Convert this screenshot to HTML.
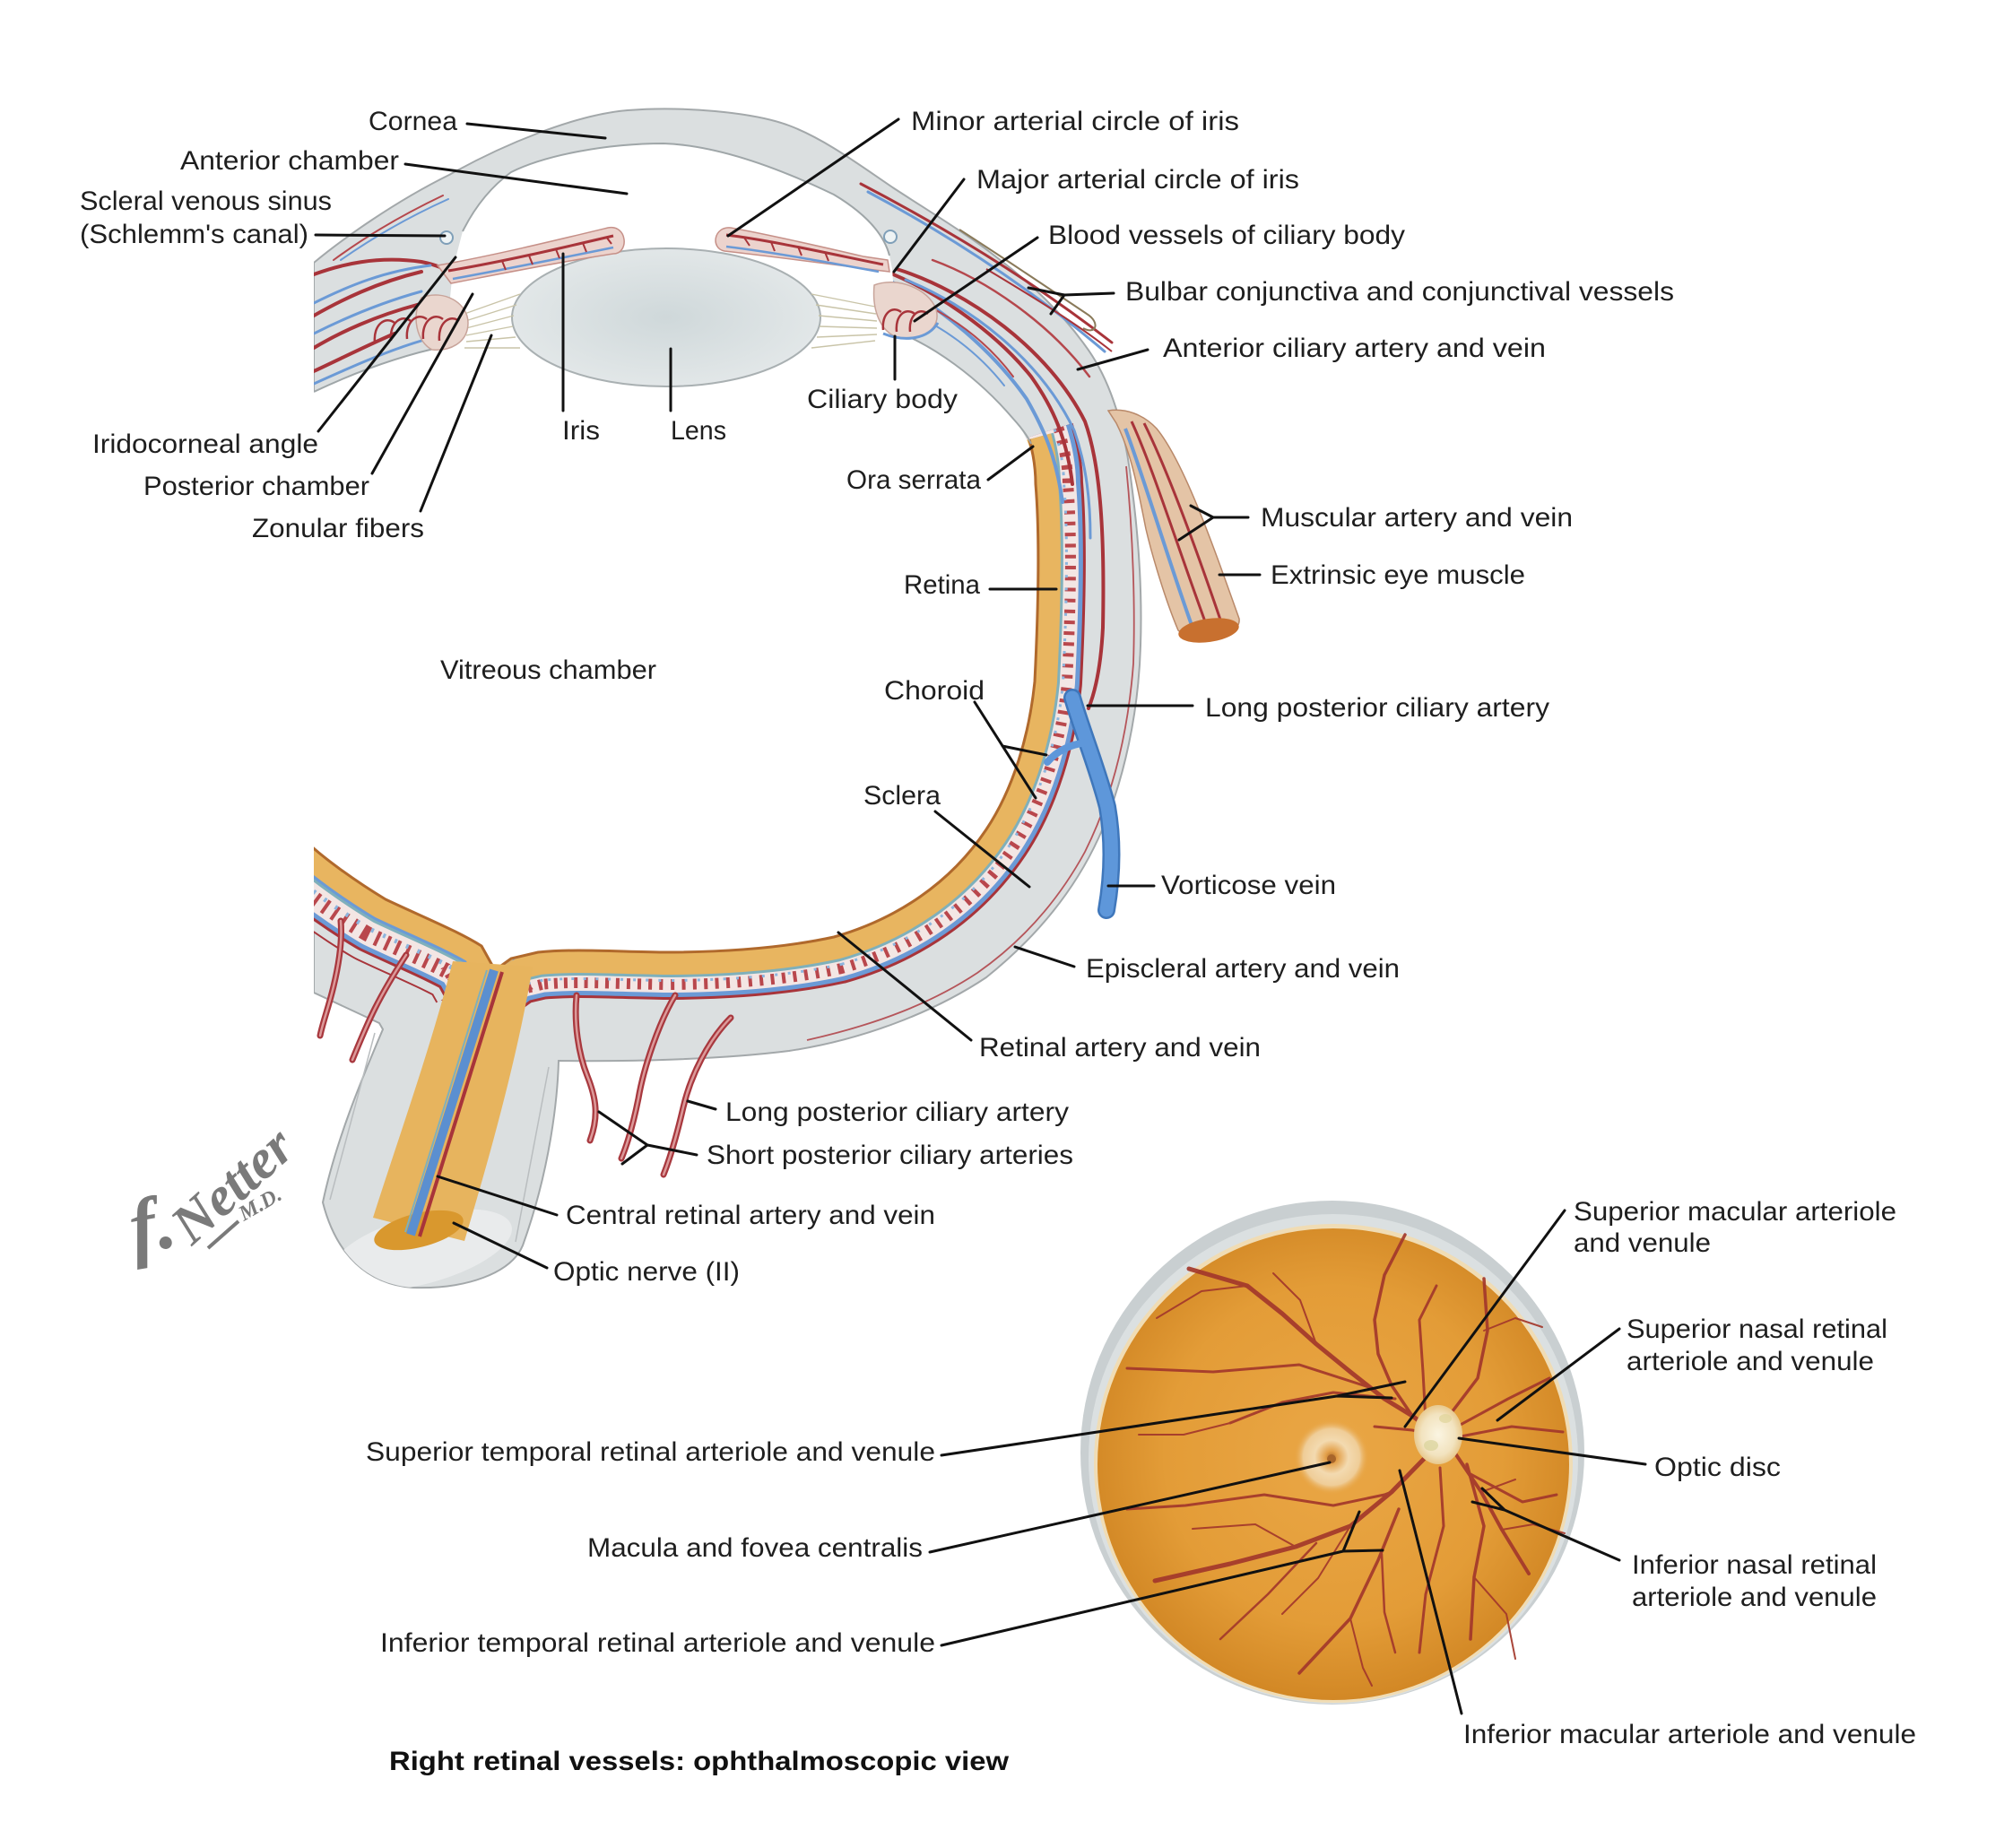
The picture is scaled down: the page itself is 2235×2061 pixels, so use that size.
<!DOCTYPE html>
<html><head><meta charset="utf-8">
<style>
html,body{margin:0;padding:0;background:#fff;}
svg{display:block;}
</style></head>
<body>
<svg xmlns="http://www.w3.org/2000/svg" width="2235" height="2061" viewBox="0 0 2235 2061">
<defs>
 <clipPath id="cut"><rect x="350" y="0" width="1200" height="1500"/></clipPath>
 <clipPath id="globe"><path d="M350,293 C380,268 440,225 501,195 C560,162 640,128 700,123 C760,118 840,125 880,140 C920,155 960,185 997,210 C1040,238 1080,262 1113,288 C1150,316 1185,350 1210,385 C1240,425 1255,480 1262,540 C1270,600 1274,660 1272,720 C1270,790 1255,870 1225,935 C1195,1000 1150,1050 1100,1090 C1040,1130 960,1160 880,1172 C800,1182 700,1184 623,1183 C622,1220 615,1300 583,1389 C570,1420 520,1438 460,1436 C410,1432 375,1400 360,1341 C375,1270 405,1200 427,1148 L423,1141 L350,1107 Z"/></clipPath>
 <path id="rbp" fill="none" d="M1146,488 C1153,510 1155,528 1155,540 C1160,600 1158,680 1154,760 C1148,820 1130,880 1100,925 C1060,985 1000,1025 930,1045 C870,1058 800,1062 740,1062 C680,1061 640,1058 600,1062 L570,1069 L552,1082"/>
 <path id="retp" fill="none" d="M1148,490 C1154,512 1155,528 1155,540 C1160,600 1158,680 1154,760 C1148,820 1130,880 1100,925 C1060,985 1000,1025 930,1045 C870,1058 800,1062 740,1062 C680,1061 640,1058 600,1062 L570,1069 L552,1082"/>
 <path id="lpp" fill="none" d="M340,937 C360,957 400,985 430,1003 C470,1022 510,1038 537,1055 L552,1082"/>
 <radialGradient id="fg" cx="0.5" cy="0.48" r="0.55">
   <stop offset="0" stop-color="#eaa746"/>
   <stop offset="0.65" stop-color="#e39c37"/>
   <stop offset="1" stop-color="#cf8422"/>
 </radialGradient>
 <radialGradient id="mac">
   <stop offset="0" stop-color="#b06c28"/>
   <stop offset="0.16" stop-color="#e3a04a"/>
   <stop offset="0.45" stop-color="#f3dab0"/>
   <stop offset="0.75" stop-color="#efcd98"/>
   <stop offset="1" stop-color="#e6a140" stop-opacity="0"/>
 </radialGradient>
 <radialGradient id="disc">
   <stop offset="0" stop-color="#fbf5e2"/>
   <stop offset="0.7" stop-color="#f2e3bf"/>
   <stop offset="1" stop-color="#e8c98e"/>
 </radialGradient>
 <radialGradient id="lensg" cx="0.5" cy="0.5" r="0.5">
   <stop offset="0" stop-color="#cfd8da"/>
   <stop offset="1" stop-color="#e2e7e8"/>
 </radialGradient>
</defs>

<rect width="2235" height="2061" fill="#fff"/>

<!-- ================= EYE GLOBE ================= -->
<g clip-path="url(#cut)">
 <path d="M350,293 C380,268 440,225 501,195 C560,162 640,128 700,123 C760,118 840,125 880,140 C920,155 960,185 997,210 C1040,238 1080,262 1113,288 C1150,316 1185,350 1210,385 C1240,425 1255,480 1262,540 C1270,600 1274,660 1272,720 C1270,790 1255,870 1225,935 C1195,1000 1150,1050 1100,1090 C1040,1130 960,1160 880,1172 C800,1182 700,1184 623,1183 C622,1220 615,1300 583,1389 C570,1420 520,1438 460,1436 C410,1432 375,1400 360,1341 C375,1270 405,1200 427,1148 L423,1141 L350,1107 Z" fill="#dbdfe0" stroke="#a3a8aa" stroke-width="2"/>

 <!-- layered retina/choroid strokes -->
 <g clip-path="url(#globe)" fill="none" stroke-linejoin="round">
  <use href="#rbp" stroke="#a8343a" stroke-width="106"/>
  <use href="#rbp" stroke="#6b9ad6" stroke-width="100"/>
  <use href="#rbp" stroke="#f3e6e4" stroke-width="90"/>
  <use href="#rbp" stroke="#b9474c" stroke-width="84" stroke-dasharray="4 8"/>
  <use href="#rbp" stroke="#8db5de" stroke-width="66" stroke-dasharray="3 11"/>
  <use href="#rbp" stroke="#f3e6e4" stroke-width="60"/>
  <use href="#retp" stroke="#7fb0bb" stroke-width="56"/>
  <use href="#retp" stroke="#e8b560" stroke-width="50"/>

  <use href="#lpp" stroke="#a8343a" stroke-width="150"/>
  <use href="#lpp" stroke="#dbdfe0" stroke-width="146"/>
  <use href="#lpp" stroke="#a8343a" stroke-width="128"/>
  <use href="#lpp" stroke="#6b9ad6" stroke-width="122"/>
  <use href="#lpp" stroke="#f3e6e4" stroke-width="112"/>
  <use href="#lpp" stroke="#b9474c" stroke-width="104" stroke-dasharray="4 8"/>
  <use href="#lpp" stroke="#8db5de" stroke-width="80" stroke-dasharray="3 11"/>
  <use href="#lpp" stroke="#f3e6e4" stroke-width="70"/>
  <use href="#lpp" stroke="#7fb0bb" stroke-width="58"/>
  <use href="#lpp" stroke="#6b9ad6" stroke-width="52"/>
  <use href="#lpp" stroke="#e8b560" stroke-width="46"/>
 </g>

 <!-- vessels inside anterior right wall -->
 <g fill="none" stroke-linecap="round">
  <path d="M975,298 C1040,320 1110,370 1150,420 C1175,455 1190,490 1196,540" stroke="#a8343a" stroke-width="4"/>
  <path d="M985,310 C1050,340 1110,395 1145,445 C1165,480 1178,510 1185,560" stroke="#6b9ad6" stroke-width="4"/>
  <path d="M1000,300 C1080,325 1170,390 1210,470 C1228,520 1232,600 1230,700 C1228,740 1222,770 1214,790" stroke="#a8343a" stroke-width="4"/>
  <path d="M1010,312 C1080,340 1160,400 1198,480 C1212,520 1216,560 1216,600" stroke="#6b9ad6" stroke-width="3"/>
  <path d="M960,205 C1050,252 1150,312 1240,382" stroke="#a8343a" stroke-width="3"/>
  <path d="M968,214 C1058,262 1150,322 1232,392" stroke="#6b9ad6" stroke-width="3"/>
  <path d="M1040,290 C1100,312 1170,360 1215,420" stroke="#b5474c" stroke-width="2.5"/>
  <path d="M1010,330 C1060,350 1100,380 1130,420" stroke="#b5474c" stroke-width="2"/>
  <path d="M1005,345 C1050,362 1090,392 1120,430" stroke="#6b9ad6" stroke-width="2"/>
 </g>

 <!-- vessels in left anterior band -->
 <g fill="none" stroke-linecap="round">
  <path d="M350,306 C380,295 420,285 470,292 C490,296 500,302 507,306" stroke="#a8343a" stroke-width="4"/>
  <path d="M350,352 C380,335 420,315 470,303" stroke="#a8343a" stroke-width="4"/>
  <path d="M350,388 C380,370 420,352 465,340 C485,336 500,340 505,346" stroke="#a8343a" stroke-width="4"/>
  <path d="M350,414 C380,400 410,385 440,372" stroke="#a8343a" stroke-width="4"/>
  <path d="M350,338 C390,318 430,302 480,296" stroke="#6b9ad6" stroke-width="3"/>
  <path d="M350,428 C390,410 430,392 470,380" stroke="#6b9ad6" stroke-width="3"/>
  <path d="M350,372 C390,352 430,336 470,325" stroke="#6b9ad6" stroke-width="3"/>
  <path d="M380,290 C420,262 460,240 500,222" stroke="#6b9ad6" stroke-width="2"/>
  <path d="M372,290 C410,262 452,238 494,218" stroke="#b5474c" stroke-width="2"/>
 </g>

 <!-- white interior -->
 <path d="M505,300 L516,258 C530,230 548,208 570,192 C610,172 680,160 740,160 C800,162 870,188 930,217 C960,235 985,258 992,285 L995,300 L1000,370 C1040,385 1090,420 1130,467 C1145,485 1152,500 1155,540 C1160,600 1158,680 1154,760 C1148,820 1130,880 1100,925 C1060,985 1000,1025 930,1045 C870,1058 800,1062 740,1062 C680,1061 640,1058 600,1062 L570,1069 L552,1082 L537,1055 C510,1038 470,1022 430,1003 C400,985 360,957 340,937 L300,900 L300,437 L350,437 C390,418 440,398 497,386 L505,300 Z" fill="#fff"/>

 <path d="M516,258 C530,230 548,208 570,192 C610,172 680,160 740,160 C800,162 870,188 930,217 C960,235 985,258 992,285" fill="none" stroke="#9fa6a8" stroke-width="2"/>
 <path d="M1148,490 C1154,512 1155,528 1155,540 C1160,600 1158,680 1154,760 C1148,820 1130,880 1100,925 C1060,985 1000,1025 930,1045 C870,1058 800,1062 740,1062 C680,1061 640,1058 600,1062 L570,1069 L552,1082 L537,1055 C510,1038 470,1022 430,1003 C400,985 360,957 340,937" fill="none" stroke="#b0692c" stroke-width="3"/>
 <path d="M1000,370 C1040,385 1090,420 1130,467 C1140,478 1146,486 1150,495" fill="none" stroke="#9fa6a8" stroke-width="2"/>
 <path d="M350,437 C390,418 440,398 497,386" fill="none" stroke="#9fa6a8" stroke-width="2"/>

 <!-- lens -->
 <ellipse cx="743" cy="354" rx="172" ry="77" fill="url(#lensg)" stroke="#a9b0b2" stroke-width="2"/>

 <!-- zonular fibers -->
 <g stroke="#c9c4a8" stroke-width="1.4" fill="none">
  <path d="M518,350 L580,328"/><path d="M519,358 L576,340"/><path d="M520,366 L573,352"/>
  <path d="M520,374 L572,364"/><path d="M520,381 L575,376"/><path d="M518,388 L580,388"/>
  <path d="M976,342 L905,328"/><path d="M977,350 L910,340"/><path d="M978,358 L913,352"/>
  <path d="M978,366 L914,364"/><path d="M978,373 L911,376"/><path d="M976,380 L905,388"/>
 </g>

 <!-- ciliary bodies -->
 <path d="M470,332 C495,322 522,338 522,360 C522,382 502,392 482,390 C465,382 458,352 470,332 Z" fill="#ead6ce" stroke="#c8a49a" stroke-width="1.5"/>
 <g fill="none" stroke="#a8343a" stroke-width="2.5">
  <path d="M418,382 c-2,-20 12,-30 22,-22"/><path d="M436,380 c-2,-20 12,-30 22,-22"/>
  <path d="M454,378 c-2,-20 12,-30 22,-22"/><path d="M472,378 c-2,-20 12,-30 22,-22"/>
  <path d="M490,380 c-2,-20 12,-30 22,-22"/>
 </g>
 <path d="M975,318 C1000,308 1036,322 1044,345 C1050,366 1030,380 1005,377 C985,374 972,350 975,318 Z" fill="#ead6ce" stroke="#c8a49a" stroke-width="1.5"/>
 <g fill="none" stroke="#a8343a" stroke-width="2.5">
  <path d="M985,368 c-2,-18 10,-28 20,-20"/><path d="M1000,370 c-2,-18 10,-28 20,-20"/>
  <path d="M1015,370 c-2,-18 10,-28 20,-20"/>
 </g>
 <path d="M985,372 C1010,382 1035,378 1046,360" fill="none" stroke="#6b9ad6" stroke-width="3"/>

 <!-- iris left -->
 <path d="M488,296 C550,285 620,268 678,254 C700,250 702,283 684,283 C630,291 560,305 503,316 Z" fill="#ecd3cd" stroke="#c69088" stroke-width="1.5"/>
 <path d="M500,302 C560,292 620,278 684,263" fill="none" stroke="#a8343a" stroke-width="3"/>
 <path d="M505,311 C560,301 620,289 684,276" fill="none" stroke="#6b9ad6" stroke-width="2.5"/>
 <g stroke="#a8343a" stroke-width="2"><path d="M560,291 l4,10"/><path d="M590,285 l4,10"/><path d="M620,278 l4,10"/><path d="M650,271 l4,10"/><path d="M676,264 l6,8"/></g>
 <!-- iris right -->
 <path d="M990,290 L963,286 C920,276 860,262 815,254 C796,252 792,277 808,280 C860,286 930,295 975,301 L992,303 Z" fill="#ecd3cd" stroke="#c69088" stroke-width="1.5"/>
 <path d="M985,295 C930,284 860,268 810,262" fill="none" stroke="#a8343a" stroke-width="3"/>
 <path d="M980,303 C920,292 860,281 810,275" fill="none" stroke="#6b9ad6" stroke-width="2.5"/>
 <g stroke="#a8343a" stroke-width="2"><path d="M830,265 l6,9"/><path d="M860,270 l4,10"/><path d="M890,275 l4,10"/><path d="M920,281 l4,10"/></g>

 <!-- Schlemm's canals -->
 <circle cx="498" cy="265" r="7" fill="#eef3f4" stroke="#7f9fb8" stroke-width="2"/>
 <circle cx="993" cy="264" r="7" fill="#eef3f4" stroke="#7f9fb8" stroke-width="2"/>

 <!-- optic nerve -->
 <g clip-path="url(#globe)">
  <ellipse cx="470" cy="1394" rx="104" ry="38" transform="rotate(-15 470 1394)" fill="#e9ebec"/>
 </g>
 <path d="M418,1152 L368,1338" stroke="#b9bdbf" stroke-width="1.5" fill="none"/>
 <path d="M612,1190 L575,1385" stroke="#b9bdbf" stroke-width="1.5" fill="none"/>
 <path d="M505,1072 L594,1078 C577,1180 546,1290 518,1384 L416,1358 C444,1270 480,1170 505,1072 Z" fill="#e7b45e"/>
 <ellipse cx="467" cy="1372" rx="51" ry="19" transform="rotate(-14 467 1372)" fill="#d9982e"/>
 <path d="M551,1082 L458,1377" stroke="#5b8fd0" stroke-width="10" fill="none"/>
 <path d="M560,1084 L468,1379" stroke="#a8343a" stroke-width="4" fill="none"/>
 <path d="M543,1082 L452,1374" stroke="#7fb0bb" stroke-width="2" fill="none"/>

 <!-- conjunctiva -->
 <path d="M1070,256 C1120,288 1170,322 1212,350 C1228,360 1222,374 1208,366" fill="none" stroke="#8a7a5a" stroke-width="2"/>
 <path d="M1100,300 C1150,330 1200,360 1240,392" fill="none" stroke="#a8343a" stroke-width="2"/>

 <!-- episcleral line -->
 <path d="M1256,520 C1264,600 1266,680 1264,740 C1258,820 1240,890 1210,950 C1180,1005 1140,1050 1090,1085 C1040,1118 980,1142 900,1160" fill="none" stroke="#b5555a" stroke-width="1.8"/>

 <!-- vorticose vein -->
 <path d="M1196,778 C1205,810 1225,860 1235,900 C1242,940 1240,980 1234,1015" fill="none" stroke="#3f77bb" stroke-width="20" stroke-linecap="round"/>
 <path d="M1196,778 C1205,810 1225,860 1235,900 C1242,940 1240,980 1234,1015" fill="none" stroke="#5e97da" stroke-width="15" stroke-linecap="round"/>
 <path d="M1168,850 C1180,836 1195,830 1212,828" fill="none" stroke="#5e97da" stroke-width="8" stroke-linecap="round"/>

 <!-- muscle -->
 <path d="M1236,458 C1255,455 1275,462 1290,478 C1320,515 1350,600 1382,690 C1385,712 1330,718 1314,703 C1300,670 1285,620 1278,590 C1270,550 1262,505 1245,472 Z" fill="#e4c4a6" stroke="#b9896a" stroke-width="1.5"/>
 <path d="M1262,470 C1285,520 1310,600 1345,696" fill="none" stroke="#a8343a" stroke-width="3"/>
 <path d="M1255,478 C1275,530 1298,610 1330,700" fill="none" stroke="#6b9ad6" stroke-width="4"/>
 <path d="M1276,472 C1300,520 1330,600 1362,694" fill="none" stroke="#a8343a" stroke-width="3"/>
 <ellipse cx="1348" cy="703" rx="34" ry="13" transform="rotate(-8 1348 703)" fill="#c8702f"/>
</g>

<!-- vessels leaving posterior globe -->
<g fill="none" stroke-linecap="round">
 <g stroke="#a8383e" stroke-width="7">
  <path d="M643,1110 C640,1141 645,1175 655,1200 C665,1225 668,1245 658,1272"/>
  <path d="M753,1110 C735,1140 718,1190 712,1225 C706,1255 700,1275 693,1292"/>
  <path d="M815,1135 C790,1160 770,1200 762,1235 C755,1265 748,1290 740,1310"/>
  <path d="M380,1027 C382,1050 378,1075 372,1100 C366,1125 360,1140 357,1155"/>
  <path d="M453,1065 C440,1085 428,1105 418,1125 C408,1145 400,1165 393,1182"/>
 </g>
 <g stroke="#dc9a9a" stroke-width="2.5">
  <path d="M643,1110 C640,1141 645,1175 655,1200 C665,1225 668,1245 658,1272"/>
  <path d="M753,1110 C735,1140 718,1190 712,1225 C706,1255 700,1275 693,1292"/>
  <path d="M815,1135 C790,1160 770,1200 762,1235 C755,1265 748,1290 740,1310"/>
  <path d="M380,1027 C382,1050 378,1075 372,1100 C366,1125 360,1140 357,1155"/>
  <path d="M453,1065 C440,1085 428,1105 418,1125 C408,1145 400,1165 393,1182"/>
 </g>
</g>

<!-- ================= FUNDUS ================= -->
<g>
 <circle cx="1486" cy="1620" r="281" fill="#c9cfd1"/>
 <circle cx="1487" cy="1627" r="273" fill="#dbe0e1"/>
 <circle cx="1487" cy="1632" r="267" fill="#f0dcb4"/>
 <circle cx="1487" cy="1633" r="263" fill="url(#fg)"/>
 <circle cx="1485" cy="1625" r="42" fill="url(#mac)"/>
 <circle cx="1485" cy="1627" r="5" fill="#a8652a"/>
 <g fill="none" stroke="#a3382b" stroke-linecap="round" stroke-linejoin="round" opacity="0.92">
  <polyline stroke-width="5" points="1590,1590 1575,1579 1544,1560 1506,1530 1468,1499 1430,1465 1391,1434 1326,1415"/>
  <polyline stroke-width="3.5" points="1575,1579 1552,1545 1537,1510 1533,1472 1544,1422 1567,1377"/>
  <polyline stroke-width="3" points="1556,1560 1487,1553 1430,1564 1372,1587"/>
  <polyline stroke-width="3" points="1533,1549 1449,1522 1353,1530 1257,1526"/>
  <polyline stroke-width="3" points="1590,1585 1587,1530 1583,1472 1602,1434"/>
  <polyline stroke-width="3.5" points="1613,1583 1648,1537 1659,1484 1655,1426"/>
  <polyline stroke-width="3" points="1625,1591 1682,1560 1728,1537"/>
  <polyline stroke-width="3" points="1629,1602 1686,1591 1743,1597"/>
  <polyline stroke-width="4" points="1621,1618 1652,1664 1675,1706 1705,1755"/>
  <polyline stroke-width="3.5" points="1636,1633 1655,1702 1644,1759 1640,1828"/>
  <polyline stroke-width="3" points="1640,1644 1698,1675 1736,1667"/>
  <polyline stroke-width="5" points="1600,1620 1590,1625 1552,1664 1506,1702 1445,1725 1372,1744 1288,1763"/>
  <polyline stroke-width="3" points="1552,1664 1544,1667 1487,1679 1410,1667 1322,1679 1257,1683"/>
  <polyline stroke-width="3.5" points="1560,1683 1537,1740 1506,1805 1449,1866"/>
  <polyline stroke-width="2.5" points="1541,1733 1544,1798 1556,1843"/>
  <polyline stroke-width="3" points="1606,1637 1610,1702 1590,1778 1583,1843"/>
  <polyline stroke-width="2.5" points="1468,1721 1414,1778 1361,1828"/>
  <polyline stroke-width="3" points="1590,1598 1575,1595 1533,1591"/>
  <polyline stroke-width="2" points="1468,1499 1450,1450 1420,1420"/>
  <polyline stroke-width="2" points="1391,1434 1340,1440 1290,1470"/>
  <polyline stroke-width="2" points="1445,1725 1400,1700 1330,1705"/>
  <polyline stroke-width="2" points="1506,1805 1520,1860 1530,1880"/>
  <polyline stroke-width="2" points="1675,1706 1710,1700 1745,1710"/>
  <polyline stroke-width="2" points="1652,1664 1690,1650"/>
  <polyline stroke-width="2" points="1655,1484 1690,1470 1720,1480"/>
  <polyline stroke-width="2" points="1644,1759 1680,1800 1690,1850"/>
  <polyline stroke-width="2" points="1372,1587 1320,1600 1270,1600"/>
  <polyline stroke-width="2" points="1506,1702 1470,1760 1430,1800"/>
 </g>
 <ellipse cx="1604" cy="1600" rx="27" ry="33" fill="url(#disc)"/>
 <ellipse cx="1596" cy="1612" rx="8" ry="6" fill="#d8d39a" opacity="0.7"/>
 <ellipse cx="1612" cy="1582" rx="7" ry="5" fill="#e0d49a" opacity="0.7"/>
</g>

<!-- ================= SIGNATURE ================= -->
<g fill="#7a7a7a" font-family="'Liberation Serif', serif" font-style="italic" font-weight="bold">
 <text font-size="86" transform="translate(150,1398) rotate(-10)">f.</text>
 <text font-size="62" transform="translate(214,1390) rotate(-42)">Netter</text>
 <text font-size="24" transform="translate(272,1362) rotate(-30)">M.D.</text>
 <path d="M232,1392 L266,1362" stroke="#7a7a7a" stroke-width="4" fill="none"/>
</g>

<!-- ================= LEADER LINES ================= -->
<g stroke="#111" stroke-width="3" fill="none" stroke-linecap="round">
 <path d="M521,138 L675,154"/>
 <path d="M452,183 L699,216"/>
 <path d="M352,262 L496,263"/>
 <path d="M355,481 L508,287"/>
 <path d="M415,528 L527,328"/>
 <path d="M469,570 L548,374"/>
 <path d="M628,283 L628,458"/>
 <path d="M748,389 L748,458"/>
 <path d="M998,375 L998,423"/>
 <path d="M1002,133 L812,263"/>
 <path d="M1075,200 L997,303"/>
 <path d="M1157,265 L1020,358"/>
 <path d="M1242,327 L1187,329 M1187,329 L1147,321 M1187,329 L1172,350"/>
 <path d="M1280,390 L1202,412"/>
 <path d="M1102,535 L1152,498"/>
 <path d="M1104,657 L1178,657"/>
 <path d="M1392,577 L1353,577 M1353,577 L1328,564 M1353,577 L1315,602"/>
 <path d="M1405,641 L1360,641"/>
 <path d="M1087,783 L1155,890 M1118,832 L1167,842"/>
 <path d="M1330,787 L1213,787"/>
 <path d="M1043,905 L1148,989"/>
 <path d="M1287,988 L1236,988"/>
 <path d="M1198,1078 L1132,1056"/>
 <path d="M1083,1160 L935,1040"/>
 <path d="M798,1237 L767,1228"/>
 <path d="M777,1288 L722,1277 M722,1277 L668,1240 M722,1277 L694,1298"/>
 <path d="M621,1355 L488,1312"/>
 <path d="M610,1414 L506,1364"/>
 <path d="M1745,1350 L1567,1591"/>
 <path d="M1806,1482 L1670,1584"/>
 <path d="M1835,1633 L1627,1604"/>
 <path d="M1806,1740 L1678,1684 M1678,1684 L1653,1660 M1678,1684 L1642,1675"/>
 <path d="M1630,1911 L1561,1640"/>
 <path d="M1050,1623 L1491,1557 M1491,1557 L1567,1541 M1491,1557 L1552,1559"/>
 <path d="M1037,1731 L1483,1631"/>
 <path d="M1050,1835 L1498,1730 M1498,1730 L1516,1686 M1498,1730 L1542,1729"/>
</g>

<!-- ================= LABELS ================= -->
<g font-family="'Liberation Sans', Arial, sans-serif" font-size="30" fill="#1e1e1e">
 <text x="411" y="145" textLength="99" lengthAdjust="spacingAndGlyphs">Cornea</text>
 <text x="201" y="189" textLength="244" lengthAdjust="spacingAndGlyphs">Anterior chamber</text>
 <text x="89" y="234" textLength="281" lengthAdjust="spacingAndGlyphs">Scleral venous sinus</text>
 <text x="89" y="271" textLength="255" lengthAdjust="spacingAndGlyphs">(Schlemm's canal)</text>
 <text x="103" y="505" textLength="252" lengthAdjust="spacingAndGlyphs">Iridocorneal angle</text>
 <text x="160" y="552" textLength="252" lengthAdjust="spacingAndGlyphs">Posterior chamber</text>
 <text x="281" y="599" textLength="192" lengthAdjust="spacingAndGlyphs">Zonular fibers</text>
 <text x="627" y="490" textLength="42" lengthAdjust="spacingAndGlyphs">Iris</text>
 <text x="748" y="490" textLength="62" lengthAdjust="spacingAndGlyphs">Lens</text>
 <text x="900" y="455" textLength="168" lengthAdjust="spacingAndGlyphs">Ciliary body</text>
 <text x="491" y="757" textLength="241" lengthAdjust="spacingAndGlyphs">Vitreous chamber</text>
 <text x="1016" y="145" textLength="366" lengthAdjust="spacingAndGlyphs">Minor arterial circle of iris</text>
 <text x="1089" y="210" textLength="360" lengthAdjust="spacingAndGlyphs">Major arterial circle of iris</text>
 <text x="1169" y="272" textLength="398" lengthAdjust="spacingAndGlyphs">Blood vessels of ciliary body</text>
 <text x="1255" y="335" textLength="612" lengthAdjust="spacingAndGlyphs">Bulbar conjunctiva and conjunctival vessels</text>
 <text x="1297" y="398" textLength="427" lengthAdjust="spacingAndGlyphs">Anterior ciliary artery and vein</text>
 <text x="944" y="545" textLength="150" lengthAdjust="spacingAndGlyphs">Ora serrata</text>
 <text x="1008" y="662" textLength="85" lengthAdjust="spacingAndGlyphs">Retina</text>
 <text x="1406" y="587" textLength="348" lengthAdjust="spacingAndGlyphs">Muscular artery and vein</text>
 <text x="1417" y="651" textLength="284" lengthAdjust="spacingAndGlyphs">Extrinsic eye muscle</text>
 <text x="986" y="780" textLength="112" lengthAdjust="spacingAndGlyphs">Choroid</text>
 <text x="1344" y="799" textLength="384" lengthAdjust="spacingAndGlyphs">Long posterior ciliary artery</text>
 <text x="963" y="897" textLength="86" lengthAdjust="spacingAndGlyphs">Sclera</text>
 <text x="1295" y="997" textLength="195" lengthAdjust="spacingAndGlyphs">Vorticose vein</text>
 <text x="1211" y="1090" textLength="350" lengthAdjust="spacingAndGlyphs">Episcleral artery and vein</text>
 <text x="1092" y="1178" textLength="314" lengthAdjust="spacingAndGlyphs">Retinal artery and vein</text>
 <text x="809" y="1250" textLength="383" lengthAdjust="spacingAndGlyphs">Long posterior ciliary artery</text>
 <text x="788" y="1298" textLength="409" lengthAdjust="spacingAndGlyphs">Short posterior ciliary arteries</text>
 <text x="631" y="1365" textLength="412" lengthAdjust="spacingAndGlyphs">Central retinal artery and vein</text>
 <text x="617" y="1428" textLength="208" lengthAdjust="spacingAndGlyphs">Optic nerve (II)</text>
 <text x="1755" y="1361" textLength="360" lengthAdjust="spacingAndGlyphs">Superior macular arteriole</text>
 <text x="1755" y="1396" textLength="153" lengthAdjust="spacingAndGlyphs">and venule</text>
 <text x="1814" y="1492" textLength="291" lengthAdjust="spacingAndGlyphs">Superior nasal retinal</text>
 <text x="1814" y="1528" textLength="276" lengthAdjust="spacingAndGlyphs">arteriole and venule</text>
 <text x="1845" y="1646" textLength="141" lengthAdjust="spacingAndGlyphs">Optic disc</text>
 <text x="1820" y="1755" textLength="273" lengthAdjust="spacingAndGlyphs">Inferior nasal retinal</text>
 <text x="1820" y="1791" textLength="273" lengthAdjust="spacingAndGlyphs">arteriole and venule</text>
 <text x="408" y="1629" textLength="635" lengthAdjust="spacingAndGlyphs">Superior temporal retinal arteriole and venule</text>
 <text x="655" y="1736" textLength="374" lengthAdjust="spacingAndGlyphs">Macula and fovea centralis</text>
 <text x="424" y="1842" textLength="619" lengthAdjust="spacingAndGlyphs">Inferior temporal retinal arteriole and venule</text>
 <text x="1632" y="1944" textLength="505" lengthAdjust="spacingAndGlyphs">Inferior macular arteriole and venule</text>
 <text x="434" y="1974" textLength="691" lengthAdjust="spacingAndGlyphs" font-weight="bold" fill="#111">Right retinal vessels: ophthalmoscopic view</text>
</g>
</svg>
</body></html>
